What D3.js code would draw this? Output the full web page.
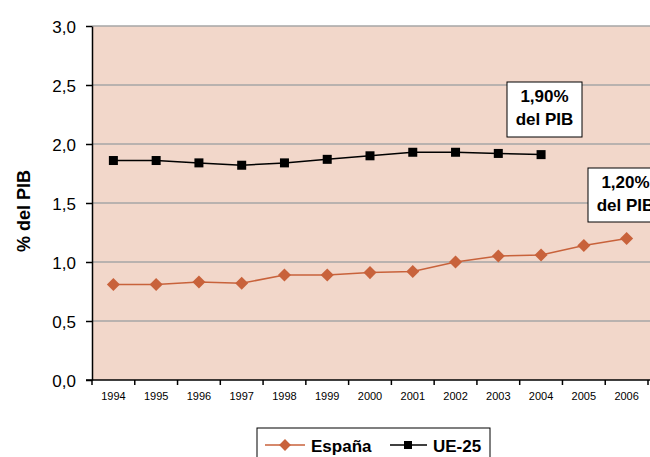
<!DOCTYPE html>
<html><head><meta charset="utf-8">
<script src="https://cdn.jsdelivr.net/npm/d3@7"></script>
<style>body{margin:0;background:#fff;} text{font-family:"Liberation Sans",Arial,sans-serif;}</style>
</head><body>
<svg id="c" width="650" height="457"></svg>
<script>
const years = ["1994","1995","1996","1997","1998","1999","2000","2001","2002","2003","2004","2005","2006"];
const espana = [0.81,0.81,0.83,0.82,0.89,0.89,0.91,0.92,1.00,1.05,1.06,1.14,1.20];
const ue25 = [1.86,1.86,1.84,1.82,1.84,1.87,1.90,1.93,1.93,1.92,1.91,null,null];
const yTicks = [0,0.5,1,1.5,2,2.5,3];

const svg = d3.select("#c");
const L=92,T=26,R=648,B=380;
const x = d3.scaleBand().domain(years).range([L,R]);
const y = d3.scaleLinear().domain([0,3]).range([B,T]);
const fmt = d => d3.format(".1f")(d).replace(".",",");

svg.append("rect").attr("x",L).attr("y",T).attr("width",R-L+2).attr("height",B-T).attr("fill","#f2d7ca");
svg.append("g").selectAll("line").data(yTicks.filter(d=>d>0)).join("line")
  .attr("x1",L).attr("x2",650).attr("y1",d=>y(d)).attr("y2",d=>y(d))
  .attr("stroke","#a6a6a6").attr("stroke-width",1.5);

const ya = svg.append("g").attr("transform",`translate(${L},0)`)
  .call(d3.axisLeft(y).tickValues(yTicks).tickFormat(fmt).tickSize(6).tickSizeOuter(0));
ya.select(".domain").attr("stroke","#000").attr("stroke-width",1.5);
ya.selectAll(".tick line").attr("stroke","#000").attr("stroke-width",1.5);
ya.selectAll(".tick text").attr("font-size",17).attr("fill","#000").attr("x",-16).attr("dy","0.36em");

const xa = svg.append("g").attr("transform",`translate(0,${B})`)
  .call(d3.axisBottom(x).tickSize(0).tickSizeOuter(0));
xa.select(".domain").attr("stroke","#000").attr("stroke-width",1.5).attr("d",`M${L-6},0H650`);
xa.selectAll(".tick text").attr("font-size",11).attr("fill","#000").attr("y",0).attr("dy","20px");
svg.append("g").selectAll("line").data(years.concat(["end"])).join("line")
  .attr("x1",(d,i)=>L+i*x.bandwidth()).attr("x2",(d,i)=>L+i*x.bandwidth())
  .attr("y1",B).attr("y2",B+5).attr("stroke","#000").attr("stroke-width",1.5);

svg.append("text").attr("transform","translate(30,211) rotate(-90)").attr("text-anchor","middle")
  .attr("font-size",18).attr("font-weight","bold").text("% del PIB");

const cx = d => x(d)+x.bandwidth()/2;
const orange="#c8623b";
const eData = years.map((d,i)=>({y:d,v:espana[i]}));
const uData = years.map((d,i)=>({y:d,v:ue25[i]})).filter(d=>d.v!=null);
const line = d3.line().x(d=>cx(d.y)).y(d=>y(d.v));
svg.append("path").datum(eData).attr("d",line).attr("fill","none").attr("stroke",orange).attr("stroke-width",1.5);
svg.append("path").datum(uData).attr("d",line).attr("fill","none").attr("stroke","#000").attr("stroke-width",1.5);
svg.append("g").selectAll("path").data(eData).join("path")
  .attr("d",d3.symbol(d3.symbolSquare,85))
  .attr("transform",d=>`translate(${cx(d.y)},${y(d.v)}) rotate(45)`).attr("fill",orange);
svg.append("g").selectAll("rect").data(uData).join("rect")
  .attr("x",d=>cx(d.y)-4.5).attr("y",d=>y(d.v)-4.5).attr("width",9).attr("height",9).attr("fill","#000");

function box(x0,y0,w,h,lines){
  svg.append("rect").attr("x",x0).attr("y",y0).attr("width",w).attr("height",h).attr("fill","#fff").attr("stroke","#000").attr("stroke-width",1);
  lines.forEach((t,i)=>svg.append("text").attr("x",x0+w/2).attr("y",y0+20+i*23).attr("text-anchor","middle")
    .attr("font-size",17).attr("font-weight","bold").text(t));
}
box(507,82,75,55,["1,90%","del PIB"]);
box(588,168,75,54,["1,20%","del PIB"]);

const lg = svg.append("g");
lg.append("rect").attr("x",257).attr("y",428).attr("width",233).attr("height",40).attr("fill","#fff").attr("stroke","#000");
lg.append("line").attr("x1",265).attr("x2",305).attr("y1",445).attr("y2",445).attr("stroke",orange).attr("stroke-width",1.5);
lg.append("path").attr("d",d3.symbol(d3.symbolSquare,70)).attr("transform","translate(285,445) rotate(45)").attr("fill",orange);
lg.append("text").attr("x",311).attr("y",452).attr("font-size",17).attr("font-weight","bold").text("España");
lg.append("line").attr("x1",390).attr("x2",427).attr("y1",445).attr("y2",445).attr("stroke","#000").attr("stroke-width",1.5);
lg.append("rect").attr("x",404).attr("y",441).attr("width",8).attr("height",8).attr("fill","#000");
lg.append("text").attr("x",433).attr("y",452).attr("font-size",17).attr("font-weight","bold").text("UE-25");
</script>
</body></html>
